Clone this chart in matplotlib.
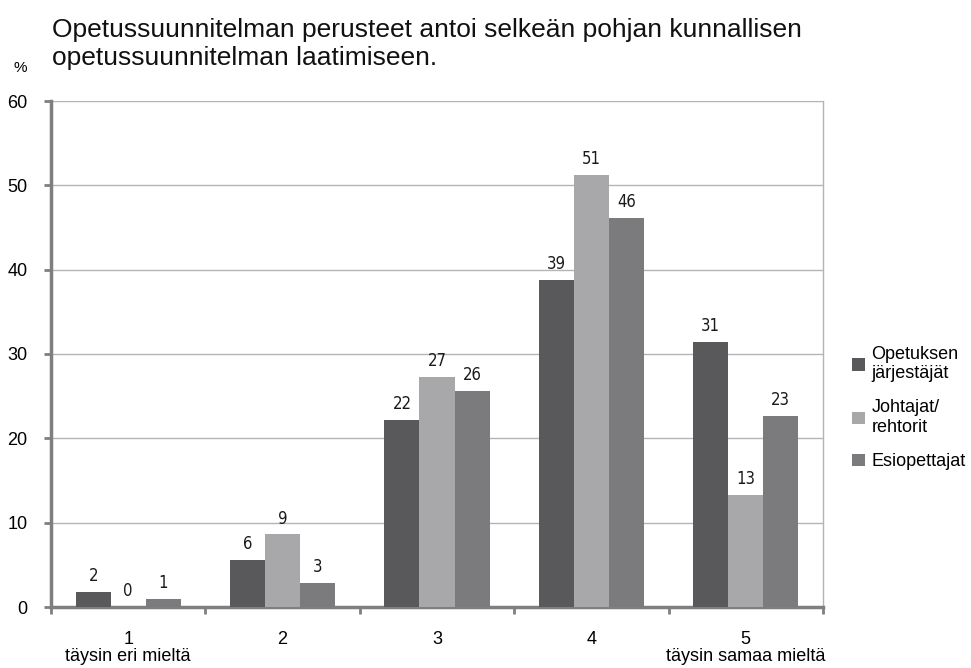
import matplotlib
matplotlib.use("Agg")
import matplotlib.pyplot as plt
import numpy as np
from matplotlib.patches import Patch

plt.rcParams['font.family'] = ['Liberation Sans', 'DejaVu Sans']

categories = ["1\ntäysin eri mieltä", "2", "3", "4", "5\ntäysin samaa mieltä"]
series_names = ["Opetuksen\njärjestäjät", "Johtajat/\nrehtorit", "Esiopettajat"]
opetuksen_jarjestajat = [1.8, 5.6, 22.2, 38.8, 31.4]
johtajat_rehtorit = [0.0, 8.6, 27.3, 51.2, 13.3]
esiopettajat = [1.0, 2.9, 25.6, 46.1, 22.6]
y_ticks = [0, 10, 20, 30, 40, 50, 60]

colors = ["#59595b", "#a8a8aa", "#7b7b7d"]
series = [opetuksen_jarjestajat, johtajat_rehtorit, esiopettajat]

fig = plt.figure(figsize=(9.71, 6.68), dpi=100)
ax = fig.add_axes([51 / 971, 61 / 668, 772 / 971, 506 / 668])

x = np.arange(len(categories))
w = 0.227
for i, (vals, col) in enumerate(zip(series, colors)):
    pos = x + (i - 1) * w
    ax.bar(pos, vals, width=w, color=col, zorder=3)
    for xp, v in zip(pos, vals):
        ax.annotate(f"{v:.0f}", (xp, v), xytext=(0, 5), textcoords="offset points",
                    ha="center", va="bottom", fontsize=12, color="#1a1a1a",
                    family=["DejaVu Sans", "Liberation Sans"], stretch="condensed")

ax.set_xlim(-0.5, len(categories) - 0.5)
ax.set_ylim(0, 60)
ax.set_yticks(y_ticks)
ax.set_yticklabels([str(t) for t in y_ticks], fontsize=13)
ax.tick_params(axis="y", direction="out", length=5, width=2, color="#7f7f7f", pad=12)
ax.yaxis.grid(True, color="#b4b4b4", linewidth=1, zorder=0)

ax.set_xticks(x)
ax.set_xticklabels(categories, fontsize=13, linespacing=1.05)
ax.tick_params(axis="x", length=0, pad=17)
ax.set_xticks(np.arange(-0.5, len(categories)), minor=True)
ax.tick_params(axis="x", which="minor", direction="out", length=5, width=2, color="#7f7f7f")

ax.spines["top"].set_visible(False)
ax.spines["left"].set_color("#7f7f7f")
ax.spines["left"].set_linewidth(2.5)
ax.spines["bottom"].set_color("#7f7f7f")
ax.spines["bottom"].set_linewidth(2.5)
ax.spines["right"].set_color("#b4b4b4")
ax.spines["right"].set_linewidth(1)

fig.text(52 / 971, 1 - 44 / 668,
         "Opetussuunnitelman perusteet antoi selkeän pohjan kunnallisen\nopetussuunnitelman laatimiseen.",
         fontsize=19, ha="left", va="center", linespacing=1.22, color="#111111")
fig.text(20 / 971, 1 - 68 / 668, "%", fontsize=11, ha="center", va="center")

handles = [Patch(facecolor=c, edgecolor="none") for c in colors]
fig.legend(handles, series_names, loc="center left",
           bbox_to_anchor=(852 / 971, 1 - 408 / 668), frameon=False,
           borderpad=0, borderaxespad=0,
           fontsize=13, handlelength=0.72, handleheight=0.72, handletextpad=0.35,
           labelspacing=0.95)

fig.savefig("out.png", dpi=100)
